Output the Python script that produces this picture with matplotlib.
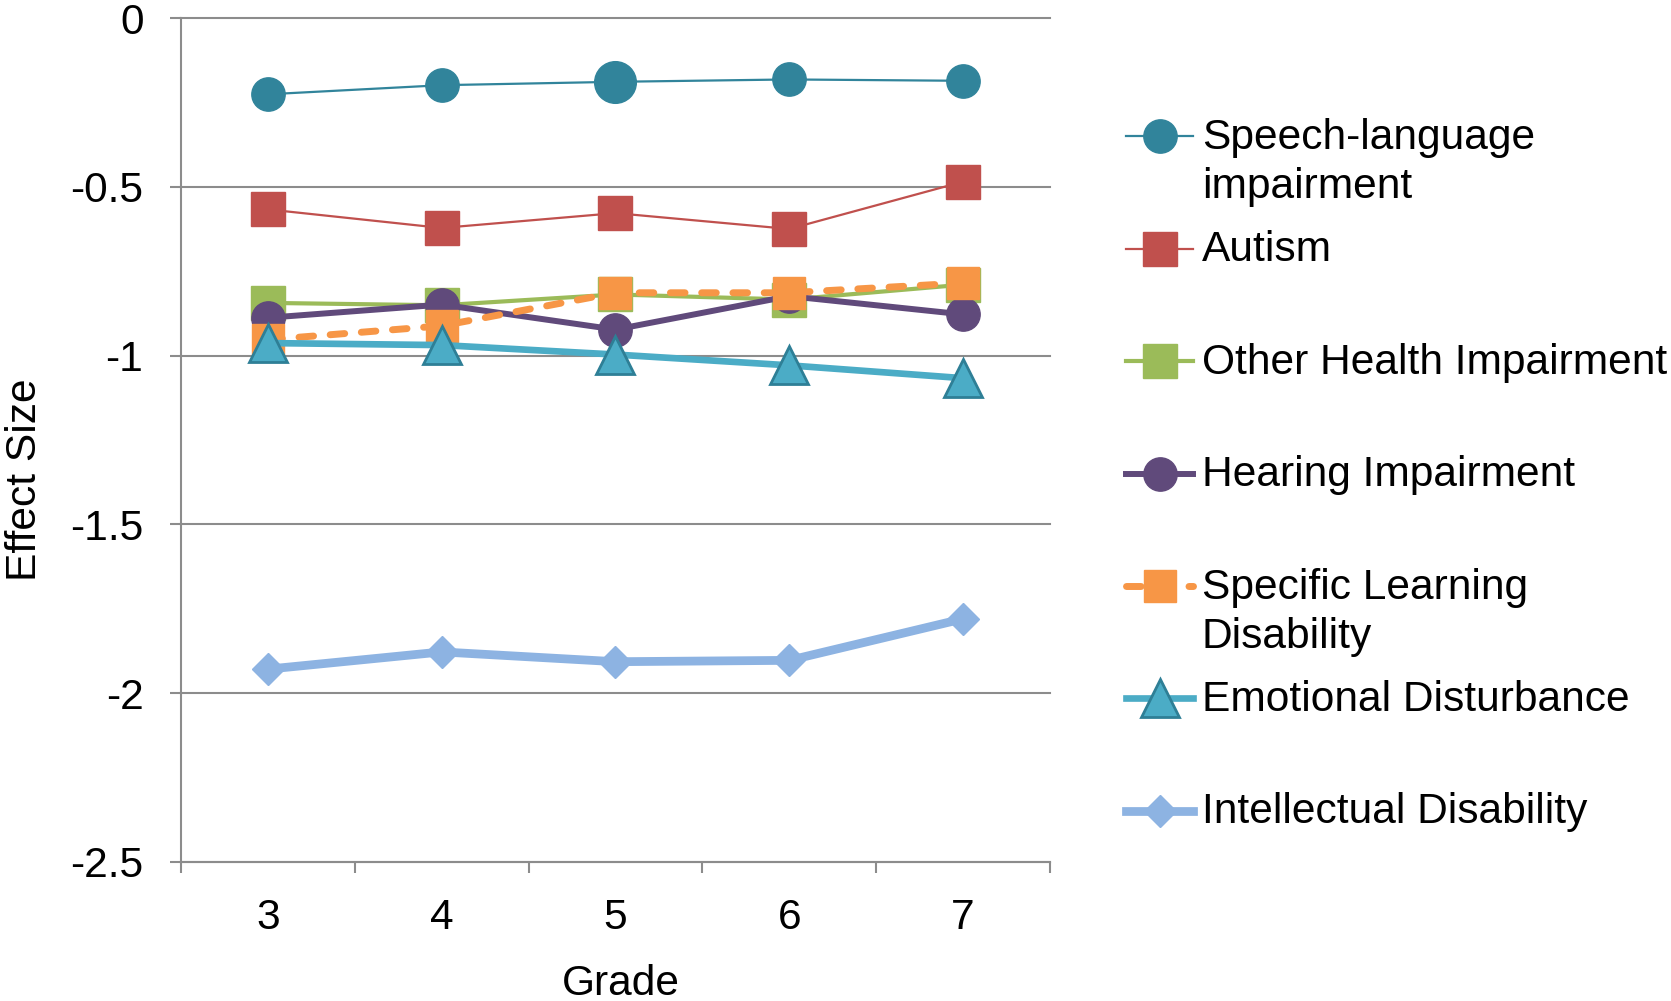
import numpy as np
import matplotlib.pyplot as plt
from matplotlib.legend_handler import HandlerLine2D

plt.rcParams['font.family'] = ['Liberation Sans', 'DejaVu Sans']
plt.rcParams['axes.unicode_minus'] = False

# data
grades = [3, 4, 5, 6, 7]
speech = [-0.226, -0.199, -0.189, -0.182, -0.186]
autism = [-0.567, -0.622, -0.578, -0.625, -0.485]
ohi = [-0.844, -0.851, -0.819, -0.834, -0.790]
hearing = [-0.888, -0.849, -0.923, -0.824, -0.878]
sld = [-0.953, -0.912, -0.814, -0.814, -0.785]
emotional = [-0.963, -0.969, -0.997, -1.029, -1.067]
intellectual = [-1.929, -1.878, -1.907, -1.903, -1.780]

labels = ['Speech-language\nimpairment', 'Autism\n ', 'Other Health Impairment\n ',
          'Hearing Impairment\n ', 'Specific Learning\nDisability',
          'Emotional Disturbance\n ', 'Intellectual Disability\n ']
yticks = [0, -0.5, -1, -1.5, -2, -2.5]
ytick_labels = ['0', '-0.5', '-1', '-1.5', '-2', '-2.5']
xtick_labels = ['3', '4', '5', '6', '7']

FS = 30.6


class TopLineHandler(HandlerLine2D):
    # put the legend sample on the first line of a two-line label
    def create_artists(self, legend, orig_handle, xdescent, ydescent, width, height, fontsize, trans):
        arts = super().create_artists(legend, orig_handle, xdescent, ydescent, width, height, fontsize, trans)
        for a in arts:
            a.set_ydata(np.asarray(a.get_ydata()) + 0.63 * fontsize)
        return arts


fig = plt.figure(figsize=(16.71, 10.01), dpi=100)
ax = fig.add_axes([0.1083, 0.139, 0.52, 0.843])

h1, = ax.plot(grades, speech, color='#31849B', lw=1.6, marker='o', ms=24, mec='#31849B', zorder=3)
ax.plot(grades[2], speech[2], color='#31849B', marker='o', ms=30, zorder=3)
h2, = ax.plot(grades, autism, color='#C0504D', lw=1.6, marker='s', ms=24, mec='#C0504D', zorder=4)
h3, = ax.plot(grades, ohi, color='#9BBB59', lw=3.0, marker='s', ms=24, mec='#9BBB59', zorder=5)
h4, = ax.plot(grades, hearing, color='#604A7B', lw=4.3, marker='o', ms=24, mec='#604A7B', zorder=6)
h5, = ax.plot(grades, sld, color='#F79646', lw=5, ls=(0, (2.1, 2.4)), dash_capstyle='round',
              marker='s', ms=23, mec='#F79646', zorder=7)
h6, = ax.plot(grades, emotional, color='#4BACC6', lw=4.8, marker='^', ms=28, mec='#2E7F96', mew=2, zorder=8)
h7, = ax.plot(grades, intellectual, color='#8DB3E2', lw=6.3, marker='D', ms=16, mec='#8DB3E2', zorder=9)

ax.set_xlim(2.5, 7.5)
ax.set_ylim(-2.5, 0)
ax.set_xticks(grades)
ax.set_xticklabels(xtick_labels, fontsize=FS)
ax.set_xticks(np.arange(2.5, 8, 1), minor=True)
ax.set_yticks(yticks)
ax.set_yticklabels(ytick_labels, fontsize=FS)
ax.tick_params(axis='x', which='major', length=0, pad=26)
ax.tick_params(axis='x', which='minor', length=8, width=1.5, color='#8c8c8c', direction='out')
ax.tick_params(axis='y', length=8, width=1.5, color='#8c8c8c', pad=19)

ax.grid(axis='y', color='#8c8c8c', lw=1.5, zorder=0)
ax.set_axisbelow(True)
for gl in ax.get_ygridlines():
    gl.set_clip_on(False)
for s in ['top', 'right']:
    ax.spines[s].set_visible(False)
for s in ['left', 'bottom']:
    ax.spines[s].set_color('#8c8c8c')
    ax.spines[s].set_linewidth(1.5)

ax.set_xlabel('Grade', fontsize=FS)
ax.set_ylabel('Effect Size', fontsize=FS)
ax.xaxis.set_label_coords(0.506, -0.121)
ax.yaxis.set_label_coords(-0.157, 0.4526)

leg = ax.legend([h1, h2, h3, h4, h5, h6, h7], labels, loc='upper left',
                bbox_to_anchor=(0.674, 0.882), bbox_transform=fig.transFigure,
                frameon=False, fontsize=FS, borderpad=0, borderaxespad=0,
                handlelength=1.58, handletextpad=0.2, labelspacing=0.55,
                handler_map={plt.Line2D: TopLineHandler()})
for t in leg.get_texts():
    t.set_linespacing(1.29)

fig.savefig('out.png', dpi=100)
